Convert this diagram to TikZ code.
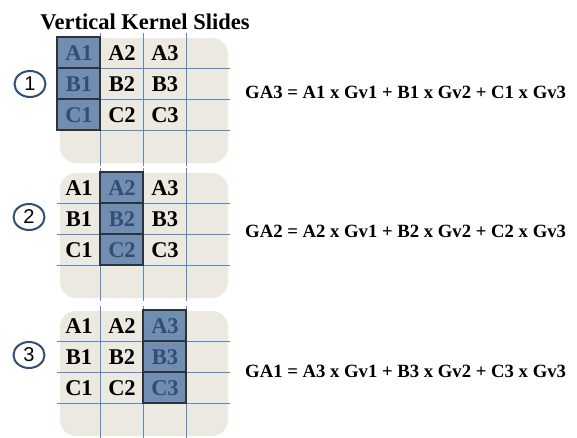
\documentclass[tikz,border=0pt]{standalone}
\usepackage{fontspec}
\setmainfont{Liberation Serif}
\newfontfamily\numfont{Liberation Sans}
\usetikzlibrary{shapes.geometric}

\definecolor{panelfill}{RGB}{236,233,224}
\definecolor{gridblue}{RGB}{92,136,196}
\definecolor{slidefill}{RGB}{112,141,178}
\definecolor{slideedge}{RGB}{45,50,60}
\definecolor{hitext}{RGB}{52,78,112}
\definecolor{stepblue}{RGB}{48,78,118}

\tikzset{
  panelbg/.style={fill=panelfill, rounded corners=16pt},
  gridline/.style={draw=gridblue, line width=0.8pt},
  slidecol/.style={fill=slidefill, draw=slideedge, line width=1.1pt},
  cell/.style={font=\bfseries\fontsize{22.5}{22.5}\selectfont, inner sep=0pt},
  stepnum/.style={ellipse, draw=stepblue, line width=2pt, minimum width=31pt,
    minimum height=26pt, inner sep=0pt, font=\numfont\fontsize{20}{20}\selectfont},
  eqtext/.style={anchor=west, font=\bfseries\fontsize{18.7}{18.7}\selectfont, inner sep=0pt},
  titletext/.style={font=\bfseries\fontsize{22.5}{22.5}\selectfont, inner sep=0pt},
}

% one 4x4 panel: #1 name, #2 top edge, #3 column under the kernel
\newcommand{\kernelpanel}[3]{%
  \fill[panelbg] (60,#2+1) rectangle (228,#2+126);
  \foreach \k in {1,2,3} {
    \draw[gridline] (57,#2+31*\k) -- (230,#2+31*\k);
    \draw[gridline] (57+43*\k,#2-4) -- (57+43*\k,#2+129);
  }
  \foreach \k in {1,2,3}
    \draw[slidecol] ({14+43*#3},{#2+31*(\k-1)}) rectangle ({57+43*#3},{#2+31*\k});
  \foreach \r/\rl in {1/A,2/B,3/C} {
    \foreach \c in {1,2,3} {
      \ifnum\c=#3 \def\celltxt{hitext}\else\def\celltxt{black}\fi
      \node[cell, text=\celltxt] (#1-\rl\c) at ({36+43*\c},{#2-15+31*\r}) {\rl\c};
    }
  }
}

\begin{document}
\begin{tikzpicture}[x=1pt, y=-1pt]
  \useasboundingbox (0,0) rectangle (577,437);

  \node[titletext] (title) at (145,22) {Vertical Kernel Slides};

  \kernelpanel{p1}{37}{1}
  \kernelpanel{p2}{172}{2}
  \kernelpanel{p3}{310}{3}

  \node[stepnum] (s1) at (30,84) {1};
  \node[stepnum] (s2) at (29,217) {2};
  \node[stepnum] (s3) at (29,355) {3};

  \node[eqtext] (eq1) at (245,92) {GA3 = A1 x Gv1 + B1 x Gv2 + C1 x Gv3};
  \node[eqtext] (eq2) at (245,231) {GA2 = A2 x Gv1 + B2 x Gv2 + C2 x Gv3};
  \node[eqtext] (eq3) at (245,371) {GA1 = A3 x Gv1 + B3 x Gv2 + C3 x Gv3};

\end{tikzpicture}
\end{document}
